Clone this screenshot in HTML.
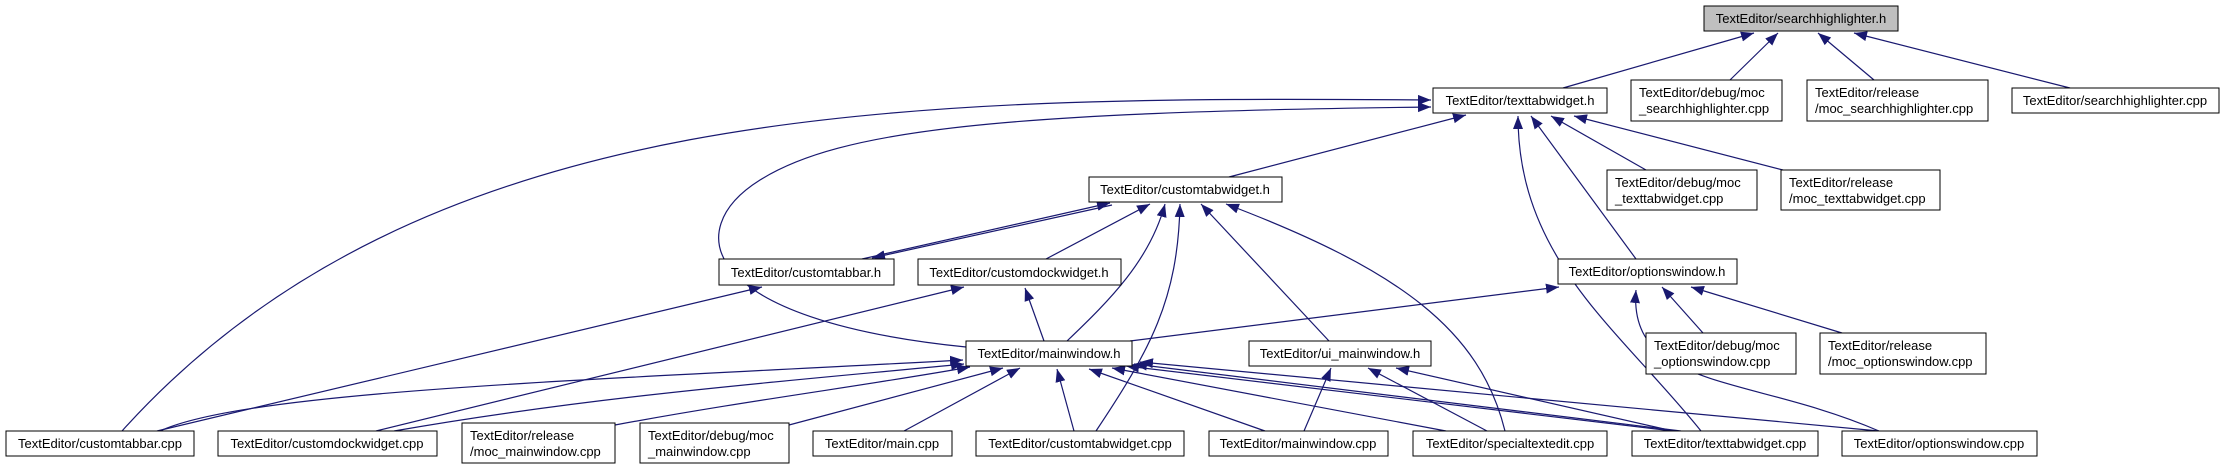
<!DOCTYPE html>
<html><head><meta charset="utf-8"><style>
html,body{margin:0;padding:0;background:#fff;}
svg{display:block;}
text{font-family:"Liberation Sans",sans-serif;font-size:13px;fill:#000;}
</style></head><body>
<svg width="2225" height="469" viewBox="0 0 2225 469" xmlns="http://www.w3.org/2000/svg">
<defs>
<marker id="a" markerWidth="14" markerHeight="12" refX="13" refY="5" orient="auto" markerUnits="userSpaceOnUse">
<path d="M0,0 L13,5 L0,10 Z" fill="#191970"/>
</marker>
</defs>
<g fill="none" stroke="#191970" stroke-width="1.2" marker-end="url(#a)">
<path d="M1563,88 L1754,33"/>
<path d="M1730,80 L1778,33"/>
<path d="M1874,80 L1818,33"/>
<path d="M2070,88 L1854,33"/>
<path d="M1229,177 L1466,115"/>
<path d="M1646,170 L1551,116"/>
<path d="M1783,170 L1574,116"/>
<path d="M1636,259 L1531,116"/>
<path d="M1701,431 C1620,330 1518,260 1518,116"/>
<path d="M122,431 C420,100 900,96 1431,100"/>
<path d="M966,347 C700,320 680,230 760,180 S1000,112 1431,107"/>
<path d="M862,259 L1110,203"/>
<path d="M1112,205 L872,258"/>
<path d="M1046,259 L1150,204"/>
<path d="M1067,341 C1110,300 1150,260 1165,204"/>
<path d="M1096,431 C1150,350 1178,300 1180,204"/>
<path d="M1329,341 L1201,204"/>
<path d="M1505,431 C1480,330 1400,270 1226,204"/>
<path d="M157,431 L762,287"/>
<path d="M376,431 L964,287"/>
<path d="M1044,341 L1025,288"/>
<path d="M1130,341 L1559,287"/>
<path d="M1703,333 L1662,287"/>
<path d="M1842,333 L1691,287"/>
<path d="M1879,431 C1750,375 1628,390 1636,290"/>
<path d="M1304,431 L1331,368"/>
<path d="M1487,431 L1368,368"/>
<path d="M1673,431 L1396,368"/>
<path d="M160,431 C250,390 600,380 963,360"/>
<path d="M394,431 C600,395 800,380 964,364"/>
<path d="M615,425 C750,400 870,385 970,367"/>
<path d="M789,425 L1003,368"/>
<path d="M904,431 L1020,368"/>
<path d="M1074,431 L1057,369"/>
<path d="M1265,431 L1089,369"/>
<path d="M1446,431 L1112,368"/>
<path d="M1673,431 L1126,366"/>
<path d="M1681,431 L1134,364"/>
<path d="M1879,431 L1140,362"/>
</g>
<g stroke="#000" stroke-width="1">
<rect x="1704" y="6" width="194" height="25" fill="#bfbfbf"/>
<rect x="1433" y="88" width="174" height="25" fill="#fff"/>
<rect x="1631" y="80" width="151" height="41" fill="#fff"/>
<rect x="1807" y="80" width="181" height="41" fill="#fff"/>
<rect x="2012" y="88" width="207" height="25" fill="#fff"/>
<rect x="1089" y="177" width="193" height="25" fill="#fff"/>
<rect x="1607" y="170" width="150" height="40" fill="#fff"/>
<rect x="1781" y="170" width="159" height="40" fill="#fff"/>
<rect x="719" y="259" width="175" height="26" fill="#fff"/>
<rect x="918" y="259" width="203" height="26" fill="#fff"/>
<rect x="1558" y="259" width="179" height="25" fill="#fff"/>
<rect x="966" y="341" width="166" height="25" fill="#fff"/>
<rect x="1249" y="341" width="182" height="25" fill="#fff"/>
<rect x="1646" y="333" width="150" height="41" fill="#fff"/>
<rect x="1820" y="333" width="166" height="41" fill="#fff"/>
<rect x="6" y="431" width="188" height="25" fill="#fff"/>
<rect x="218" y="431" width="219" height="25" fill="#fff"/>
<rect x="462" y="423" width="153" height="40" fill="#fff"/>
<rect x="640" y="423" width="149" height="40" fill="#fff"/>
<rect x="813" y="431" width="139" height="25" fill="#fff"/>
<rect x="976" y="431" width="208" height="25" fill="#fff"/>
<rect x="1209" y="431" width="179" height="25" fill="#fff"/>
<rect x="1413" y="431" width="194" height="25" fill="#fff"/>
<rect x="1632" y="431" width="186" height="25" fill="#fff"/>
<rect x="1842" y="431" width="195" height="25" fill="#fff"/>
</g>
<g text-anchor="middle">
<text x="1801" y="23">TextEditor/searchhighlighter.h</text>
<text x="1520" y="105">TextEditor/texttabwidget.h</text>
<text x="2115" y="105">TextEditor/searchhighlighter.cpp</text>
<text x="1185" y="194">TextEditor/customtabwidget.h</text>
<text x="806" y="277">TextEditor/customtabbar.h</text>
<text x="1019" y="277">TextEditor/customdockwidget.h</text>
<text x="1647" y="276">TextEditor/optionswindow.h</text>
<text x="1049" y="358">TextEditor/mainwindow.h</text>
<text x="1340" y="358">TextEditor/ui_mainwindow.h</text>
<text x="100" y="448">TextEditor/customtabbar.cpp</text>
<text x="327" y="448">TextEditor/customdockwidget.cpp</text>
<text x="882" y="448">TextEditor/main.cpp</text>
<text x="1080" y="448">TextEditor/customtabwidget.cpp</text>
<text x="1298" y="448">TextEditor/mainwindow.cpp</text>
<text x="1510" y="448">TextEditor/specialtextedit.cpp</text>
<text x="1725" y="448">TextEditor/texttabwidget.cpp</text>
<text x="1939" y="448">TextEditor/optionswindow.cpp</text>
</g>
<g>
<text x="1639" y="97">TextEditor/debug/moc</text><text x="1639" y="113">_searchhighlighter.cpp</text>
<text x="1815" y="97">TextEditor/release</text><text x="1815" y="113">/moc_searchhighlighter.cpp</text>
<text x="1615" y="187">TextEditor/debug/moc</text><text x="1615" y="203">_texttabwidget.cpp</text>
<text x="1789" y="187">TextEditor/release</text><text x="1789" y="203">/moc_texttabwidget.cpp</text>
<text x="1654" y="350">TextEditor/debug/moc</text><text x="1654" y="366">_optionswindow.cpp</text>
<text x="1828" y="350">TextEditor/release</text><text x="1828" y="366">/moc_optionswindow.cpp</text>
<text x="470" y="440">TextEditor/release</text><text x="470" y="456">/moc_mainwindow.cpp</text>
<text x="648" y="440">TextEditor/debug/moc</text><text x="648" y="456">_mainwindow.cpp</text>
</g>
</svg>
</body></html>
